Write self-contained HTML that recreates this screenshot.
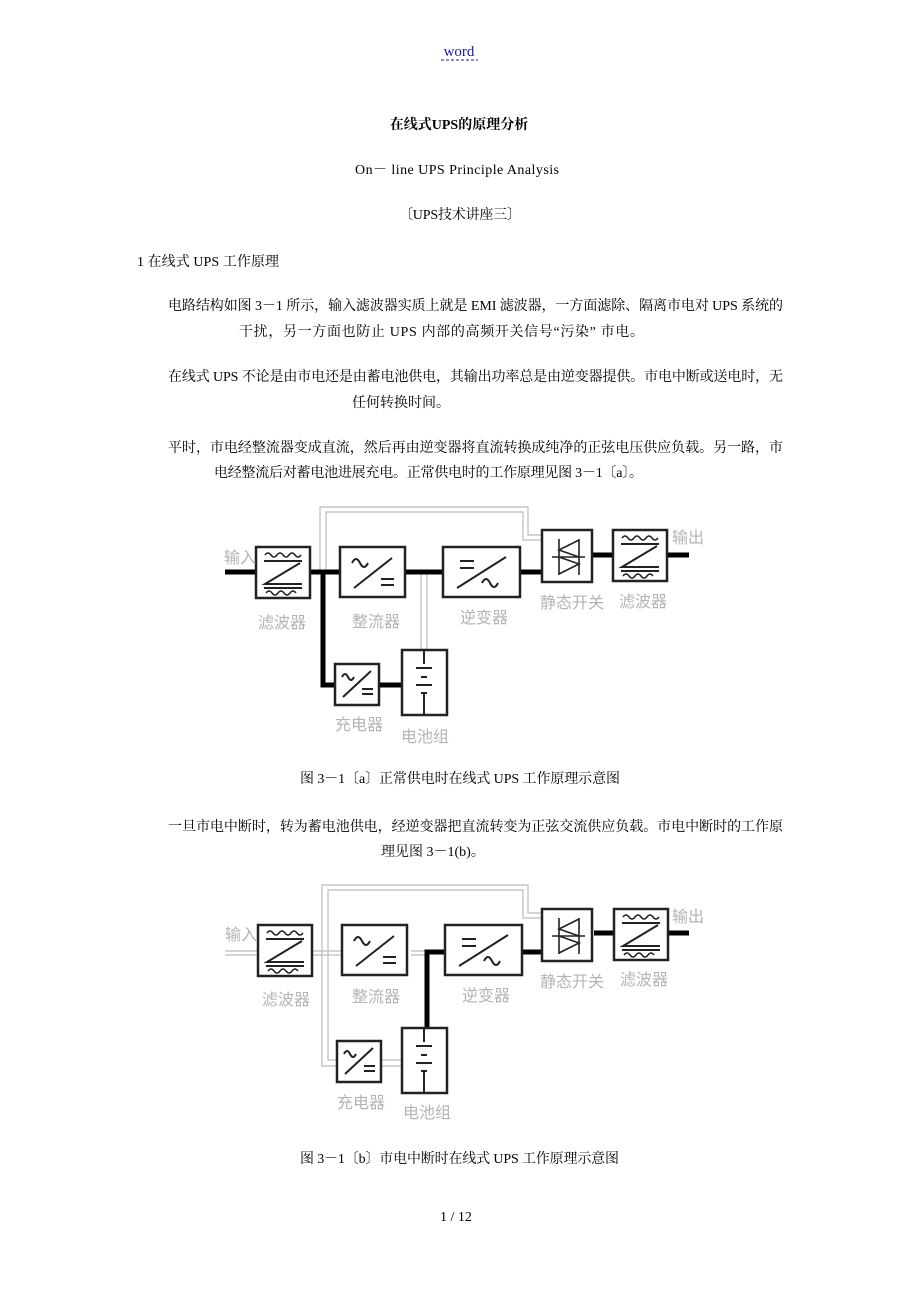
<!DOCTYPE html>
<html><head><meta charset="utf-8"><style>
html,body{margin:0;padding:0;background:#fff;}
svg{display:block;}
.t{font-family:"Liberation Serif","Noto Serif CJK SC",serif;font-size:14px;fill:#000;}
.l{font-family:"Liberation Sans","Noto Sans CJK SC",sans-serif;font-size:16px;fill:#b4b4b4;}
</style></head><body>
<svg width="920" height="1302" viewBox="0 0 920 1302" xmlns="http://www.w3.org/2000/svg">
<defs>
<g id="filt" fill="none" stroke="#222" stroke-width="2">
<rect x="0" y="0" width="54" height="51" stroke-width="2.5" fill="#fff"/>
<path d="M9 8 q3 -4 6 0 q3 4 6 0 q3 -4 6 0 q3 4 6 0 q3 -4 6 0 q3 4 6 0" stroke-width="1.5"/>
<path d="M8 14 H46 M44 16 L9 37 H46 M8 41 H46"/>
<path d="M10 46 q3 -4 6 0 q3 4 6 0 q3 -4 6 0 q3 4 6 0 q3 -4 6 0" stroke-width="1.5"/>
</g>
<g id="rect" fill="none" stroke="#222" stroke-width="2">
<rect x="0" y="0" width="65" height="50" stroke-width="2.5" fill="#fff"/>
<path d="M12 16 q4 -8 8 0 q4 8 8 0" />
<path d="M14 41 L52 11"/>
<path d="M41 32 H54 M41 38 H54"/>
</g>
<g id="inv" fill="none" stroke="#222" stroke-width="2">
<rect x="0" y="0" width="77" height="50" stroke-width="2.5" fill="#fff"/>
<path d="M17 14 H31 M17 21 H31"/>
<path d="M14 41 L63 10"/>
<path d="M39 36 q4 -8 8 0 q4 8 8 0"/>
</g>
<g id="sw" fill="none" stroke="#222" stroke-width="1.6">
<rect x="0" y="0" width="50" height="52" stroke-width="2.5" fill="#fff"/>
<path d="M17 9 V45 M37 9 V45 M10 27 H43"/>
<path d="M37 10 L17 20 L37 27 M17 27 L37 34 L17 44"/>
</g>
<g id="chg" fill="none" stroke="#222" stroke-width="2">
<rect x="0" y="0" width="44" height="41" stroke-width="2.5" fill="#fff"/>
<path d="M7 13 q3 -6 6 0 q3 6 6 0"/>
<path d="M8 33 L36 7"/>
<path d="M27 25 H38 M27 30 H38"/>
</g>
<g id="bat" fill="none" stroke="#222" stroke-width="2">
<rect x="0" y="0" width="45" height="65" stroke-width="2.5" fill="#fff"/>
<path d="M22 0 V14 M14 18 H30 M19 27 H25 M14 35 H30 M19 43 H25 M22 43 V65"/>
</g>
</defs>

<text x="459" y="56" text-anchor="middle" font-family="Liberation Serif" font-size="15" fill="#1a1aa8">word</text>
<line x1="441" y1="60" x2="478" y2="60" stroke="#1a1aa8" stroke-dasharray="3,2"/>

<text class="t" x="459" y="129" text-anchor="middle" font-weight="bold">在线式UPS的原理分析</text>
<text class="t" x="355" y="174" textLength="204">On－ line UPS Principle Analysis</text>
<text class="t" x="399" y="219" textLength="122">〔UPS技术讲座三〕</text>
<text class="t" x="137" y="266" textLength="142">1 在线式 UPS 工作原理</text>

<text class="t" x="168" y="310" textLength="615">电路结构如图 3－1 所示，输入滤波器实质上就是 EMI 滤波器，一方面滤除、隔离市电对 UPS 系统的</text>
<text class="t" x="239" y="336" textLength="405">干扰，另一方面也防止 UPS 内部的高频开关信号“污染” 市电。</text>
<text class="t" x="168" y="381" textLength="615">在线式 UPS 不论是由市电还是由蓄电池供电，其输出功率总是由逆变器提供。市电中断或送电时，无</text>
<text class="t" x="352" y="407">任何转换时间。</text>
<text class="t" x="168" y="452" textLength="615">平时，市电经整流器变成直流，然后再由逆变器将直流转换成纯净的正弦电压供应负载。另一路，市</text>
<text class="t" x="214" y="477" textLength="429">电经整流后对蓄电池进展充电。正常供电时的工作原理见图 3－1〔a〕。</text>

<!-- Diagram A -->
<g>
<path d="M320 572 V507 H528 V535 H542 M326 572 V512 H523 V540 H542" fill="none" stroke="#bbb" stroke-width="1.2"/>
<path d="M421 572 V650 M427 572 V650" fill="none" stroke="#bbb" stroke-width="1.2"/>
<path d="M225 572 H542 M323 572 V685 H402 M592 555 H689" fill="none" stroke="#000" stroke-width="5"/>
<use href="#filt" x="256" y="547"/>
<use href="#rect" x="340" y="547"/>
<use href="#inv" x="443" y="547"/>
<use href="#sw" x="542" y="530"/>
<use href="#filt" x="613" y="530"/>
<use href="#chg" x="335" y="664"/>
<use href="#bat" x="402" y="650"/>
<text class="l" x="224" y="563">输入</text>
<text class="l" x="258" y="628">滤波器</text>
<text class="l" x="352" y="627">整流器</text>
<text class="l" x="460" y="623">逆变器</text>
<text class="l" x="540" y="608">静态开关</text>
<text class="l" x="619" y="607">滤波器</text>
<text class="l" x="672" y="543">输出</text>
<text class="l" x="335" y="730">充电器</text>
<text class="l" x="401" y="742">电池组</text>
</g>

<text class="t" x="300" y="783" textLength="320">图 3－1〔a〕正常供电时在线式 UPS 工作原理示意图</text>
<text class="t" x="168" y="831" textLength="615">一旦市电中断时，转为蓄电池供电，经逆变器把直流转变为正弦交流供应负载。市电中断时的工作原</text>
<text class="t" x="381" y="856">理见图 3－1(b)。</text>

<!-- Diagram B -->
<g>
<path d="M322 954 V885 H528 V913 H542 M328 954 V890 H523 V918 H542" fill="none" stroke="#bbb" stroke-width="1.2"/>
<path d="M225 951 H258 M225 955 H258 M310 951 H345 M310 955 H345 M411 951 H427 M411 955 H427" fill="none" stroke="#bbb" stroke-width="1.2"/>
<path d="M322 954 V1066 H338 M328 954 V1060 H338 M382 1060 H402 M382 1066 H402" fill="none" stroke="#bbb" stroke-width="1.2"/>
<path d="M427 1028 V952 H446 M522 952 H542 M594 933 H689" fill="none" stroke="#000" stroke-width="5"/>
<use href="#filt" x="258" y="925"/>
<use href="#rect" x="342" y="925"/>
<use href="#inv" x="445" y="925"/>
<use href="#sw" x="542" y="909"/>
<use href="#filt" x="614" y="909"/>
<use href="#chg" x="337" y="1041"/>
<use href="#bat" x="402" y="1028"/>
<text class="l" x="225" y="940">输入</text>
<text class="l" x="262" y="1005">滤波器</text>
<text class="l" x="352" y="1002">整流器</text>
<text class="l" x="462" y="1001">逆变器</text>
<text class="l" x="540" y="987">静态开关</text>
<text class="l" x="620" y="985">滤波器</text>
<text class="l" x="672" y="922">输出</text>
<text class="l" x="337" y="1108">充电器</text>
<text class="l" x="403" y="1118">电池组</text>
</g>

<text class="t" x="300" y="1163" textLength="319">图 3－1〔b〕市电中断时在线式 UPS 工作原理示意图</text>
<text class="t" x="440" y="1221">1 / 12</text>
</svg>
</body></html>
